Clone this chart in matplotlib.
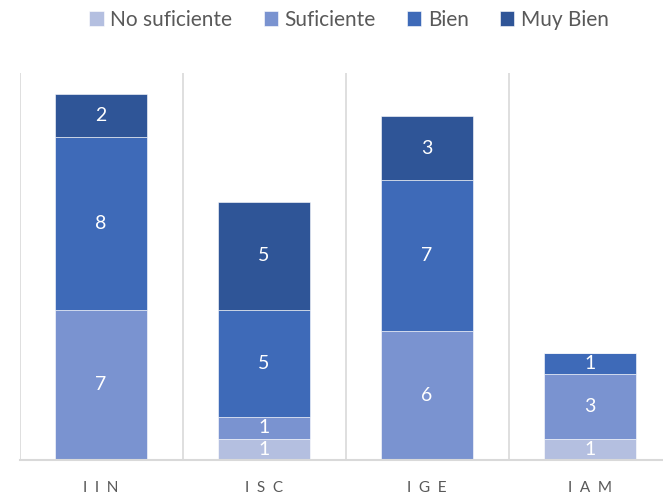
import numpy as np
import matplotlib
matplotlib.use("Agg")
from matplotlib import pyplot as plt

plt.rcParams['font.family'] = ['Lato', 'DejaVu Sans']

categories = ['IIN', 'ISC', 'IGE', 'IAM']
series_names = ['No suficiente', 'Suficiente', 'Bien', 'Muy Bien']
no_suficiente = [0, 1, 0, 1]
suficiente = [7, 1, 6, 3]
bien = [8, 5, 7, 1]
muy_bien = [2, 5, 3, 0]

colors = ['#B4BFE0', '#7A93D0', '#3E6AB8', '#2F5597']


def main():
    fig = plt.figure(figsize=(6.63, 4.96), dpi=100)
    # axes spans one category per 163 px, right edge runs past the figure
    ax = fig.add_axes([19.5 / 663, 36 / 496, 652 / 663, 387 / 496])

    x = np.arange(len(categories))
    bottom = np.zeros(len(categories))
    for name, vals, col in zip(series_names, [no_suficiente, suficiente, bien, muy_bien], colors):
        vals = np.array(vals, dtype=float)
        bars = ax.bar(x, vals, width=0.565, bottom=bottom, color=col, label=name,
                      edgecolor='white', linewidth=0.4, zorder=2)
        for b, v, b0 in zip(bars, vals, bottom):
            if v > 0:
                ax.text(b.get_x() + b.get_width() / 2, b0 + v / 2, '%d' % v,
                        ha='center', va='center', color='white', fontsize=14, zorder=3)
        bottom += vals

    ax.set_xlim(-0.5, 3.5)
    ax.set_ylim(0, 18)
    for xv in np.arange(-0.5, 4.0, 1.0):
        ax.axvline(xv, color='#D9D9D9', lw=1.2, zorder=1)

    for s in ['top', 'right', 'left']:
        ax.spines[s].set_visible(False)
    ax.spines['bottom'].set_color('#D9D9D9')
    ax.spines['bottom'].set_linewidth(1.5)
    ax.set_yticks([])
    ax.set_xticks(x)
    ax.set_xticklabels(['\u2002'.join(c) for c in categories], color='#595959', fontsize=11)
    ax.tick_params(axis='x', length=0, pad=15)

    fig.legend(loc='center', bbox_to_anchor=(349 / 663, 1 - 20 / 496), ncol=4, frameon=False,
               fontsize=15, handlelength=0.7, handleheight=0.7, handletextpad=0.3,
               columnspacing=1.5, labelcolor='#595959')

    fig.savefig('out.png', dpi=100)


if __name__ == '__main__':
    main()
